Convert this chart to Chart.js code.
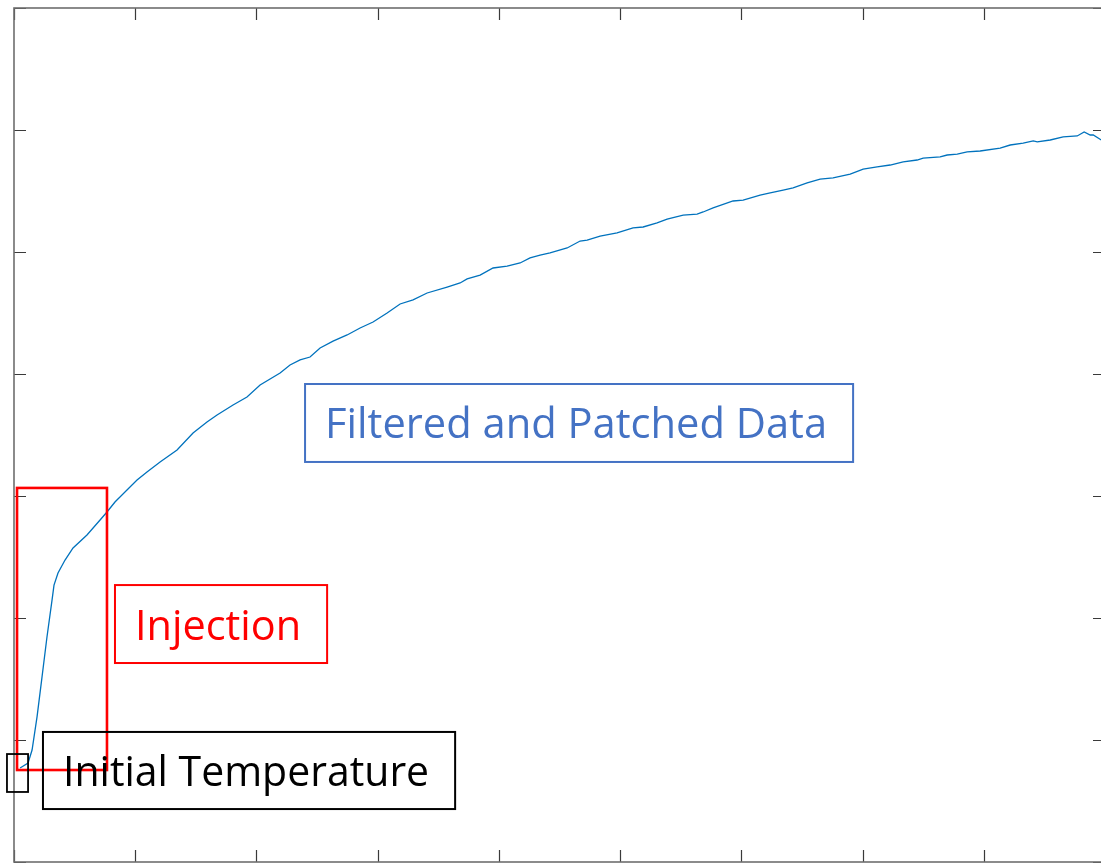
<!DOCTYPE html>
<html>
<head>
<meta charset="utf-8">
<title>Temperature record</title>
<script src="https://cdn.jsdelivr.net/npm/chart.js@4/dist/chart.umd.min.js"></script>
<style>
  html, body { margin: 0; padding: 0; background: #fff; overflow: hidden; }
  #wrap { width: 1110px; height: 864px; }
</style>
</head>
<body>
<div id="wrap"><canvas id="c" width="1110" height="864"></canvas></div>
<script>
// Recorded temperature trace (time and temperature in axis units)
const time = [
  0.050, 0.116, 0.149, 0.190, 0.231, 0.272, 0.314, 0.330, 0.363, 0.421,
  0.487, 0.602, 0.710, 0.767, 0.833, 0.932, 1.015, 1.097, 1.205, 1.345,
  1.477, 1.592, 1.675, 1.807, 1.922, 2.030, 2.195, 2.277, 2.360, 2.442,
  2.525, 2.632, 2.748, 2.855, 2.962, 3.078, 3.185, 3.292, 3.408, 3.573,
  3.680, 3.738, 3.845, 3.952, 4.068, 4.175, 4.257, 4.340, 4.422, 4.563,
  4.670, 4.728, 4.835, 4.975, 5.107, 5.190, 5.305, 5.388, 5.520, 5.635,
  5.685, 5.767, 5.932, 6.015, 6.155, 6.238, 6.345, 6.427, 6.543, 6.650,
  6.757, 6.898, 7.005, 7.120, 7.228, 7.335, 7.450, 7.500, 7.640, 7.698,
  7.781, 7.863, 7.970, 8.135, 8.218, 8.325, 8.408, 8.441, 8.548, 8.655,
  8.771, 8.828, 8.878, 8.903, 8.969, 8.993
];
const temperature = [
  0.770, 0.811, 0.918, 1.189, 1.516, 1.844, 2.148, 2.270, 2.369, 2.475,
  2.574, 2.680, 2.803, 2.869, 2.951, 3.049, 3.131, 3.197, 3.279, 3.377,
  3.516, 3.607, 3.664, 3.746, 3.811, 3.910, 4.008, 4.074, 4.115, 4.139,
  4.213, 4.270, 4.320, 4.377, 4.426, 4.500, 4.574, 4.607, 4.664, 4.713,
  4.746, 4.779, 4.811, 4.869, 4.885, 4.910, 4.951, 4.975, 4.992, 5.033,
  5.090, 5.098, 5.131, 5.156, 5.197, 5.205, 5.238, 5.270, 5.303, 5.311,
  5.328, 5.361, 5.418, 5.426, 5.467, 5.484, 5.508, 5.525, 5.566, 5.598,
  5.607, 5.639, 5.680, 5.697, 5.713, 5.738, 5.754, 5.770, 5.779, 5.795,
  5.803, 5.820, 5.828, 5.852, 5.877, 5.893, 5.910, 5.902, 5.918, 5.943,
  5.951, 5.984, 5.959, 5.959, 5.918, 5.910
];

// Axis tick positions (no labels shown)
const xTicks = [0, 1, 2, 3, 4, 5, 6, 7, 8, 9];
const yTicks = [0, 1, 2, 3, 4, 5, 6, 7];

// Outline regions, in axis units
const regions = [
  { x0: 0.025, x1: 0.767, y0: 3.066, y1: 0.754, color: '#FF0000', width: 2.6 },
  { x0: -0.058, x1: 0.116, y0: 0.885, y1: 0.574, color: '#000000', width: 1.8 }
];

// Text callouts, in axis units
const callouts = [
  { text: 'Filtered and Patched Data', x0: 2.401, x1: 6.922, y0: 3.918, y1: 3.279, color: '#4472C4' },
  { text: 'Injection', x0: 0.833, x1: 2.583, y0: 2.270, y1: 1.631, color: '#FF0000' },
  { text: 'Initial Temperature', x0: 0.239, x1: 3.639, y0: 1.066, y1: 0.434, color: '#000000' }
];

const points = time.map((t, i) => ({ x: t, y: temperature[i] }));

// Boxed axes with inward ticks on all four sides
const axesFrame = {
  id: 'axesFrame',
  beforeDatasetsDraw(chart) {
    const { ctx, chartArea: a, scales: { x, y } } = chart;
    const len = 12;
    ctx.save();
    ctx.strokeStyle = '#3a3a3a';
    ctx.lineWidth = 1.2;
    ctx.beginPath();
    xTicks.forEach(v => {
      const px = Math.round(x.getPixelForValue(v)) + 0.5;
      ctx.moveTo(px, a.bottom); ctx.lineTo(px, a.bottom - len);
      ctx.moveTo(px, a.top); ctx.lineTo(px, a.top + len);
    });
    yTicks.forEach(v => {
      const py = Math.round(y.getPixelForValue(v)) + 0.5;
      ctx.moveTo(a.left, py); ctx.lineTo(a.left + len, py);
      ctx.moveTo(a.right, py); ctx.lineTo(a.right - len, py);
    });
    ctx.stroke();
    ctx.strokeStyle = '#6e6e6e';
    ctx.lineWidth = 1.6;
    ctx.strokeRect(a.left, a.top, a.right - a.left, a.bottom - a.top);
    ctx.restore();
  }
};

// Outlines and labelled text boxes drawn over the trace
const overlays = {
  id: 'overlays',
  afterDatasetsDraw(chart) {
    const { ctx, scales: { x, y } } = chart;
    ctx.save();
    regions.forEach(r => {
      const l = x.getPixelForValue(r.x0), rr = x.getPixelForValue(r.x1);
      const t = y.getPixelForValue(r.y0), b = y.getPixelForValue(r.y1);
      ctx.strokeStyle = r.color;
      ctx.lineWidth = r.width;
      ctx.strokeRect(l, t, rr - l, b - t);
    });
    const family = '"Open Sans", "Noto Sans", sans-serif';
    callouts.forEach(c => {
      const l = x.getPixelForValue(c.x0), r = x.getPixelForValue(c.x1);
      const t = y.getPixelForValue(c.y0), b = y.getPixelForValue(c.y1);
      ctx.strokeStyle = c.color;
      ctx.lineWidth = 2;
      ctx.strokeRect(l, t, r - l, b - t);
      // size the font for a 30px cap height, then fit the text width
      ctx.font = '100px ' + family;
      const cap100 = ctx.measureText('H').actualBoundingBoxAscent || 71.4;
      const size = 30 / cap100 * 100;
      ctx.font = size.toFixed(2) + 'px ' + family;
      const w = ctx.measureText(c.text).width;
      const target = (r - l) - 46;
      const sx = target / w;
      const base = (t + b) / 2 + 15 + 0.5;
      ctx.save();
      ctx.translate(l + 20, base);
      ctx.scale(sx, 1);
      ctx.fillStyle = c.color;
      ctx.textBaseline = 'alphabetic';
      ctx.textAlign = 'left';
      ctx.fillText(c.text, 0, 0);
      ctx.restore();
    });
    ctx.restore();
  }
};

new Chart(document.getElementById('c'), {
  type: 'line',
  data: {
    datasets: [{
      data: points,
      borderColor: '#0072BD',
      borderWidth: 1.3,
      pointRadius: 0,
      tension: 0,
      fill: false
    }]
  },
  options: {
    responsive: false,
    animation: false,
    events: [],
    layout: { padding: { left: 14, right: 5, top: 8, bottom: 2 } },
    plugins: { legend: { display: false }, tooltip: { enabled: false } },
    scales: {
      x: { type: 'linear', min: 0, max: 9, display: false },
      y: { type: 'linear', min: 0, max: 7, display: false }
    }
  },
  plugins: [axesFrame, overlays]
});
</script>
</body>
</html>
